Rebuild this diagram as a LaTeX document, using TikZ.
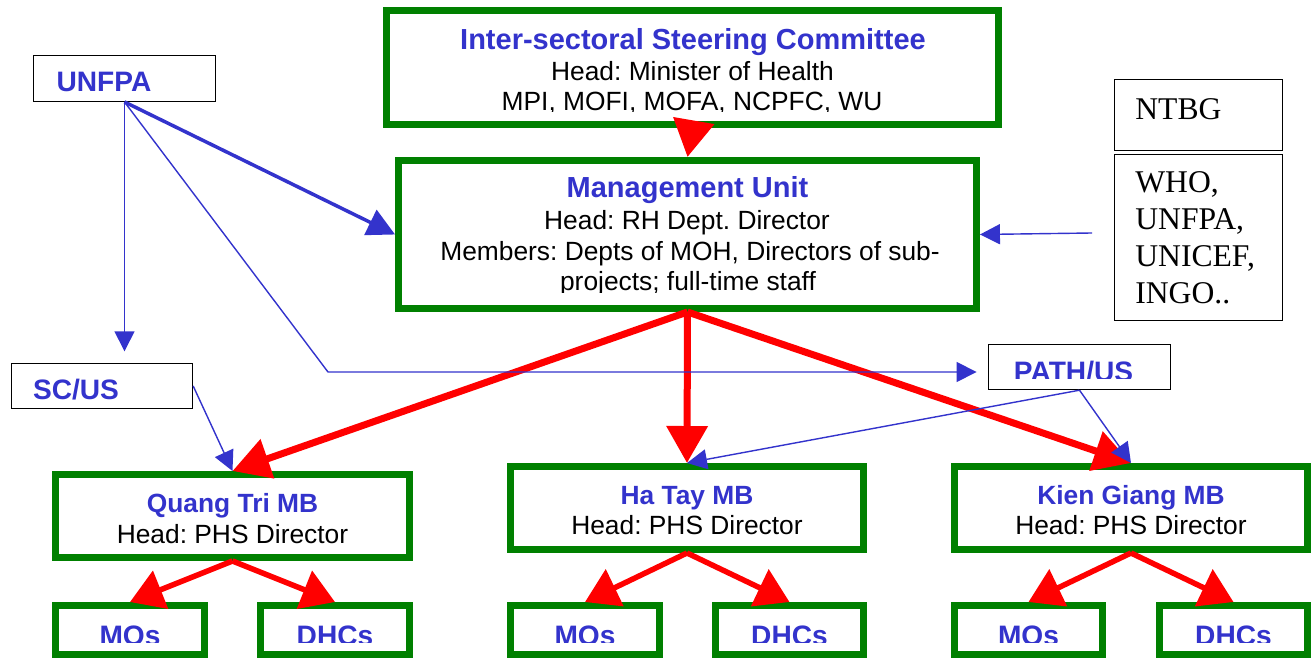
\documentclass[tikz,border=0pt]{standalone}
\usepackage{fontspec}
\setmainfont{Liberation Sans}
\newfontfamily\timesfnt{Liberation Serif}
\usetikzlibrary{arrows.meta}
\frenchspacing

\definecolor{ugreen}{RGB}{0,128,0}
\definecolor{ublue}{RGB}{51,51,204}
\definecolor{ured}{RGB}{255,0,0}

\tikzset{
  gbox/.style={draw=ugreen, line width=0.14cm, fill=white, inner sep=0pt},
  kbox/.style={draw=black, line width=0.8pt, fill=white, inner sep=0pt},
  bigttl/.style={text=ublue, font=\bfseries\fontsize{16.5}{19}\selectfont, anchor=base, inner sep=0pt},
  ttl/.style={text=ublue, font=\bfseries\fontsize{15}{18}\selectfont, anchor=base, inner sep=0pt},
  txt/.style={font=\fontsize{15}{18}\selectfont, anchor=base, inner sep=0pt},
  sml/.style={text=ublue, font=\bfseries\fontsize{16}{19}\selectfont, anchor=base, inner sep=0pt},
  ntxt/.style={font=\timesfnt\fontsize{18}{21}\selectfont, anchor=base west, inner sep=0pt},
  redarr/.style={draw=ured, line width=0.14cm, -{Triangle[length=0.74cm,width=0.8cm]}},
  redsub/.style={draw=ured, line width=0.11cm, -{Triangle[length=0.66cm,width=0.8cm]}},
  bluearr/.style={draw=ublue, line width=0.8pt, -{Triangle[length=0.4cm,width=0.4cm]}},
  bluethick/.style={draw=ublue, line width=2pt, -{Triangle[length=0.55cm,width=0.55cm]}},
}

\begin{document}
\begin{tikzpicture}[x=0.02cm, y=-0.02cm]
    \useasboundingbox (0,0) rectangle (1316,658);

    % committee and management unit
    \node[gbox, minimum width=12.24cm, minimum height=2.28cm] (isc) at (692.5,67.5) {};
    \begin{scope}
        \clip (383,0) rectangle (1002,112);
        \node[bigttl] (isct) at (693,50) {Inter-sectoral Steering Committee};
        \node[txt] (isch) at (692.5,81) {Head: Minister of Health};
        \node[txt] (iscm) at (692,111) {MPI, MOFI, MOFA, NCPFC, WU};
    \end{scope}

    \node[gbox, minimum width=11.56cm, minimum height=2.96cm] (mu) at (687.5,234.5) {};
    \begin{scope}
        \clip (395,150) rectangle (980,293);
        \node[bigttl] (mut) at (687.5,198) {Management Unit};
        \node[txt] (muh) at (687,230) {Head: RH Dept. Director};
        \node[txt] (mum) at (690,261) {Members: Depts of MOH, Directors of sub-};
        \node[txt] (mup) at (688,291) {projects; full-time staff};
    \end{scope}

    % donors
    \node[kbox, minimum width=3.63cm, minimum height=0.91cm] (unfpa) at (124.5,78.5) {};
    \node[sml] (unfpat) at (104,92) {UNFPA};

    \node[kbox, minimum width=3.62cm, minimum height=0.9cm] (scus) at (102,386) {};
    \node[sml] (scust) at (76,400) {SC/US};

    \node[kbox, minimum width=3.63cm, minimum height=0.9cm] (pathus) at (1079.5,367) {};
    \begin{scope}
        \clip (988,344) rectangle (1171,378.5);
        \node[sml] (pathust) at (1073.5,382) {PATH/US};
    \end{scope}

    \node[kbox, minimum width=3.35cm, minimum height=1.41cm] (ntbg) at (1198.5,115) {};
    \node[ntxt] (ntbgt) at (1135,120) {NTBG};
    \node[kbox, minimum width=3.35cm, minimum height=3.31cm] (ngo) at (1198.5,237.5) {};
    \node[ntxt] (ngo1) at (1135,193) {WHO,};
    \node[ntxt] (ngo2) at (1135,230) {UNFPA,};
    \node[ntxt] (ngo3) at (1135,267) {UNICEF,};
    \node[ntxt] (ngo4) at (1135,304) {INGO..};

    % provincial boards
    \node[gbox, minimum width=7.08cm, minimum height=1.66cm] (qt) at (232.5,516) {};
    \node[ttl] (qtt) at (232.5,513) {Quang Tri MB};
    \node[txt] (qth) at (232.5,543) {Head: PHS Director};

    \node[gbox, minimum width=7.06cm, minimum height=1.66cm] (ht) at (687,508) {};
    \node[ttl] (htt) at (687,505) {Ha Tay MB};
    \node[txt] (hth) at (687,535) {Head: PHS Director};

    \node[gbox, minimum width=7.06cm, minimum height=1.66cm] (kg) at (1131,508) {};
    \node[ttl] (kgt) at (1131,505) {Kien Giang MB};
    \node[txt] (kgh) at (1131,535) {Head: PHS Director};

    % district level
    \node[gbox, minimum width=2.98cm, minimum height=0.98cm] (qtmo) at (130,630) {};
    \node[gbox, minimum width=2.98cm, minimum height=0.98cm] (qtdh) at (335,630) {};
    \node[gbox, minimum width=2.98cm, minimum height=0.98cm] (htmo) at (585,630) {};
    \node[gbox, minimum width=2.98cm, minimum height=0.98cm] (htdh) at (789.5,630) {};
    \node[gbox, minimum width=2.98cm, minimum height=0.98cm] (kgmo) at (1028.5,630) {};
    \node[gbox, minimum width=2.98cm, minimum height=0.98cm] (kgdh) at (1233.5,630) {};
    \begin{scope}
        \clip (0,600) rectangle (1316,642);
        \node[sml] (qtmot) at (qtmo |- 0,645) {MOs};
        \node[sml] (qtdht) at (qtdh |- 0,645) {DHCs};
        \node[sml] (htmot) at (htmo |- 0,645) {MOs};
        \node[sml] (htdht) at (htdh |- 0,645) {DHCs};
        \node[sml] (kgmot) at (kgmo |- 0,645) {MOs};
        \node[sml] (kgdht) at (kgdh |- 0,645) {DHCs};
    \end{scope}

    % red lines of command
    \draw[redarr, shorten <=-0.16cm] (isc.south) -- (mu.north);
    \draw[redarr] (mu.south) -- (qt.north);
    \draw[redarr] (mu.south) -- (ht.north);
    \draw[redarr] (mu.south) -- (kg.north);
    \draw[redsub] (qt.south) -- (qtmo.north);
    \draw[redsub] (qt.south) -- (qtdh.north);
    \draw[redsub] (ht.south) -- (htmo.north);
    \draw[redsub] (ht.south) -- (htdh.north);
    \draw[redsub] (kg.south) -- (kgmo.north);
    \draw[redsub] (kg.south) -- (kgdh.north);

    % blue support lines
    \coordinate (bend) at (328,372);
    \coordinate (donor) at (1092,233);
    \draw[bluethick] (unfpa.south) -- (mu.west);
    \draw[bluearr, shorten >=0.23cm] (unfpa.south) -- (unfpa.south |- scus.north);
    \draw[bluearr, shorten >=0.23cm] (unfpa.south) -- (bend) -- (bend -| pathus.west);
    \draw[bluearr] (scus.east) -- (qt.north);
    \draw[bluearr] (pathus.south) -- (ht.north);
    \draw[bluearr] (pathus.south) -- (kg.north);
    \draw[bluearr] (donor) -- (mu.east);
\end{tikzpicture}
\end{document}
